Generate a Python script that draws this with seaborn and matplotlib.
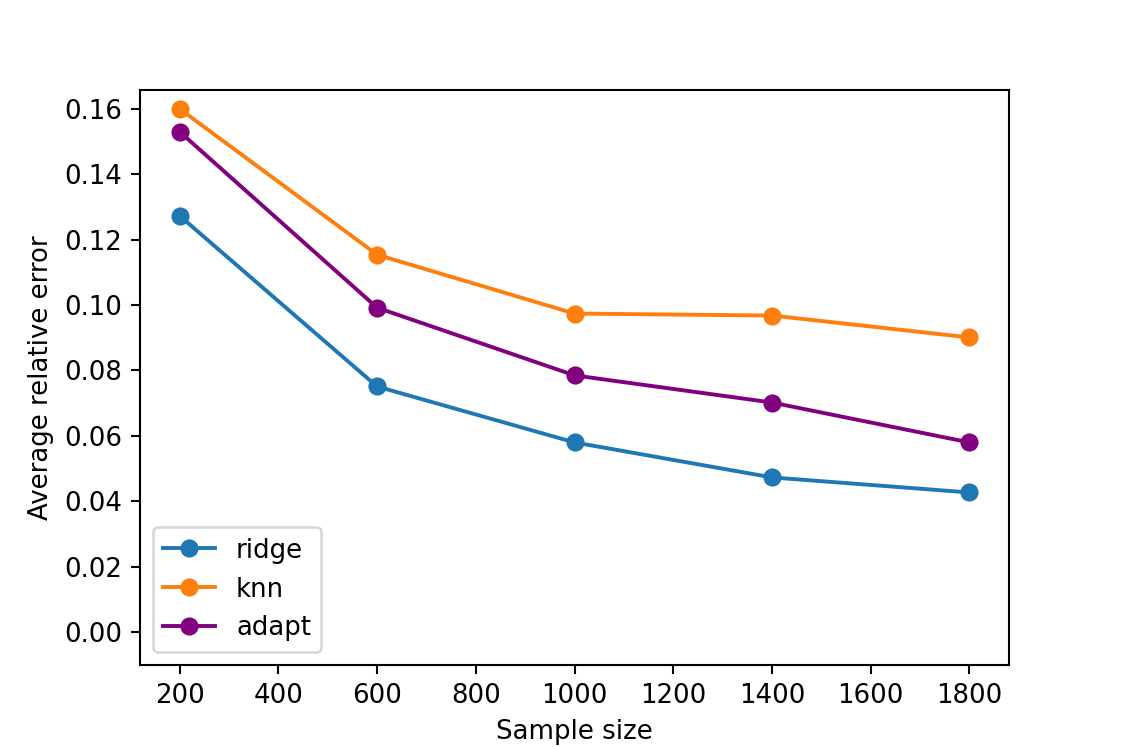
import matplotlib
matplotlib.use("Agg")
import matplotlib.pyplot as plt
import seaborn as sns
import pandas as pd

sample_sizes = [200, 600, 1000, 1400, 1800]
ridge = [0.1273, 0.0751, 0.0580, 0.0473, 0.0427]
knn = [0.1600, 0.1154, 0.0974, 0.0968, 0.0901]
adapt = [0.1530, 0.0992, 0.0785, 0.0702, 0.0580]
methods = ["ridge", "knn", "adapt"]
colors = ["#1f77b4", "#ff7f0e", "purple"]

rows = []
for name, vals in zip(methods, [ridge, knn, adapt]):
    for x, y in zip(sample_sizes, vals):
        rows.append({"Sample size": x, "Average relative error": y, "method": name})
df = pd.DataFrame(rows)

dpi = 186.8
fig, ax = plt.subplots(figsize=(1121 / dpi, 747 / dpi), dpi=dpi)
sns.lineplot(data=df, x="Sample size", y="Average relative error", hue="method",
             hue_order=methods, palette=colors, marker="o", markersize=7,
             markeredgewidth=0, linewidth=1.5, ax=ax)
ax.set_ylim(bottom=-0.01)
ax.set_xticks([200, 400, 600, 800, 1000, 1200, 1400, 1600, 1800])
ax.set_xlabel("Sample size")
ax.set_ylabel("Average relative error")
ax.legend(loc="lower left", title=None)
fig.savefig("out.png", dpi=dpi)
